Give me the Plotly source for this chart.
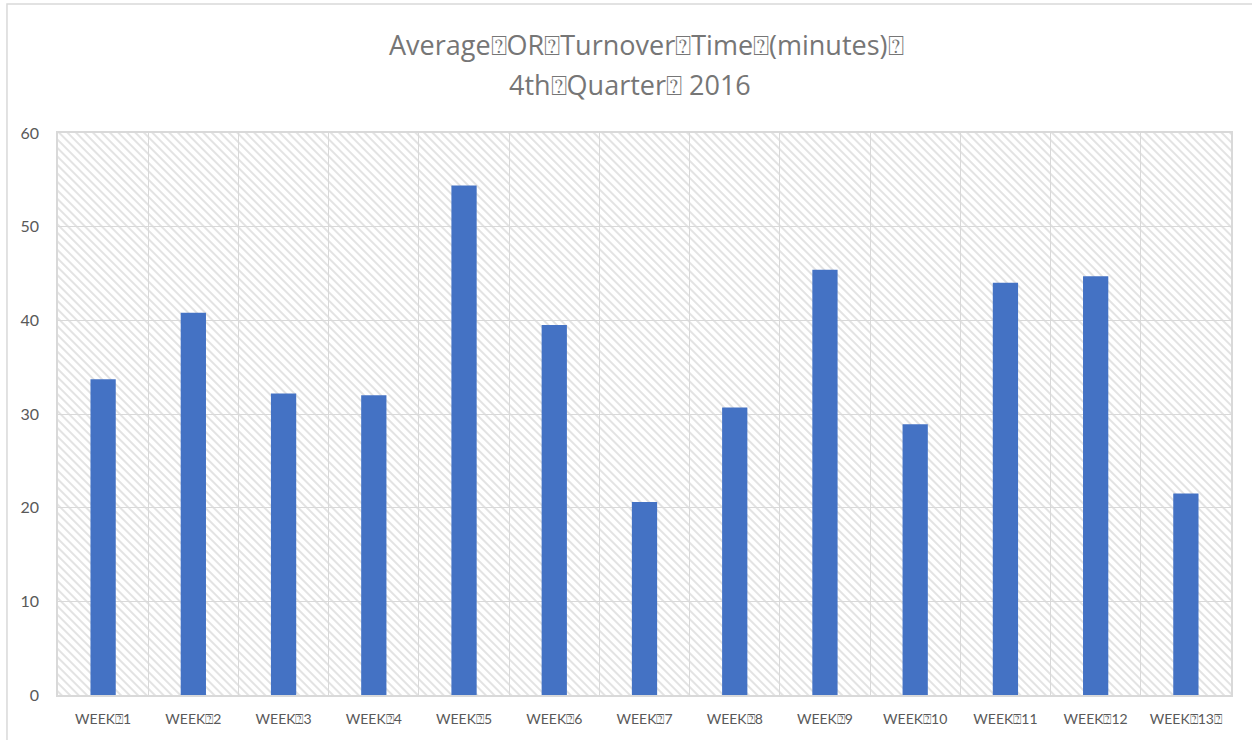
import base64
import plotly.graph_objects as go

# Weekly average OR turnover time, Q4 2016
weeks = ["WEEK\u23701", "WEEK\u23702", "WEEK\u23703", "WEEK\u23704", "WEEK\u23705",
         "WEEK\u23706", "WEEK\u23707", "WEEK\u23708", "WEEK\u23709", "WEEK\u237010",
         "WEEK\u237011", "WEEK\u237012", "WEEK\u237013\u2370"]
turnover_minutes = [33.7, 40.8, 32.2, 32.0, 54.4, 39.5, 20.6, 30.7, 45.4, 28.9, 44.0, 44.7, 21.5]
y_ticks = [0, 10, 20, 30, 40, 50, 60]

title_line1 = "Average\u2370OR\u2370Turnover\u2370Time\u2370(minutes)\u2370"
title_line2 = "4th\u2370Quarter\u2370 2016"

GRAY_TEXT = "#595959"
TITLE_GRAY = "#767676"
GRID = "#d9d9d9"
FONT = "Lato, 'Open Sans', sans-serif"
TITLE_FONT = "'Open Sans', sans-serif"

# light downward-diagonal hatch used as the plot-area fill
pw, ph = 1173, 562
svg = (
    f"<svg xmlns='http://www.w3.org/2000/svg' width='{pw}' height='{ph}'>"
    "<defs><pattern id='h' width='6' height='6' patternUnits='userSpaceOnUse' "
    "patternTransform='rotate(-45)'>"
    "<rect width='6' height='6' fill='white'/>"
    "<rect width='2' height='6' fill='#e3e3e3'/></pattern></defs>"
    f"<rect width='{pw}' height='{ph}' fill='url(#h)'/></svg>"
)
hatch_uri = "data:image/svg+xml;base64," + base64.b64encode(svg.encode()).decode()

fig = go.Figure(
    go.Bar(x=weeks, y=turnover_minutes, marker=dict(color="#4472C4", line=dict(width=0)))
)

fig.add_layout_image(
    source=hatch_uri, xref="paper", yref="paper", x=0, y=1,
    sizex=1, sizey=1, sizing="stretch", xanchor="left", yanchor="top", layer="below",
)

# chart frame
fig.add_shape(type="rect", xref="paper", yref="paper",
              x0=-0.0435, x1=1.03, y0=-0.2, y1=1.2295,
              line=dict(color=GRID, width=1.5), fillcolor="rgba(0,0,0,0)", layer="below")

fig.add_annotation(text=title_line1, xref="paper", yref="paper", x=0.5015, y=1.158,
                   showarrow=False, font=dict(family=TITLE_FONT, size=27, color=TITLE_GRAY),
                   xanchor="center", yanchor="middle")
fig.add_annotation(text=title_line2, xref="paper", yref="paper", x=0.488, y=1.0868,
                   showarrow=False, font=dict(family=TITLE_FONT, size=27, color=TITLE_GRAY),
                   xanchor="center", yanchor="middle")

fig.update_layout(
    width=1252, height=740,
    margin=dict(l=58, r=21, t=133, b=45),
    paper_bgcolor="white", plot_bgcolor="rgba(0,0,0,0)",
    bargap=0.72, showlegend=False,
    font=dict(family=FONT, color=GRAY_TEXT),
)
fig.update_xaxes(
    type="category", tickson="boundaries", showgrid=True, gridcolor=GRID, gridwidth=1,
    showline=True, linecolor=GRID, linewidth=1.5, mirror=True, ticks="",
    tickfont=dict(family=FONT, size=14, color=GRAY_TEXT), ticklabelstandoff=10,
)
fig.update_yaxes(
    range=[0, 60], tickvals=y_ticks, showgrid=True, gridcolor=GRID, gridwidth=1,
    showline=True, linecolor=GRID, linewidth=1.5, mirror=True, ticks="", zeroline=False,
    tickfont=dict(family=FONT, size=16, color=GRAY_TEXT), ticklabelstandoff=14,
)

fig.write_html("out.html")
